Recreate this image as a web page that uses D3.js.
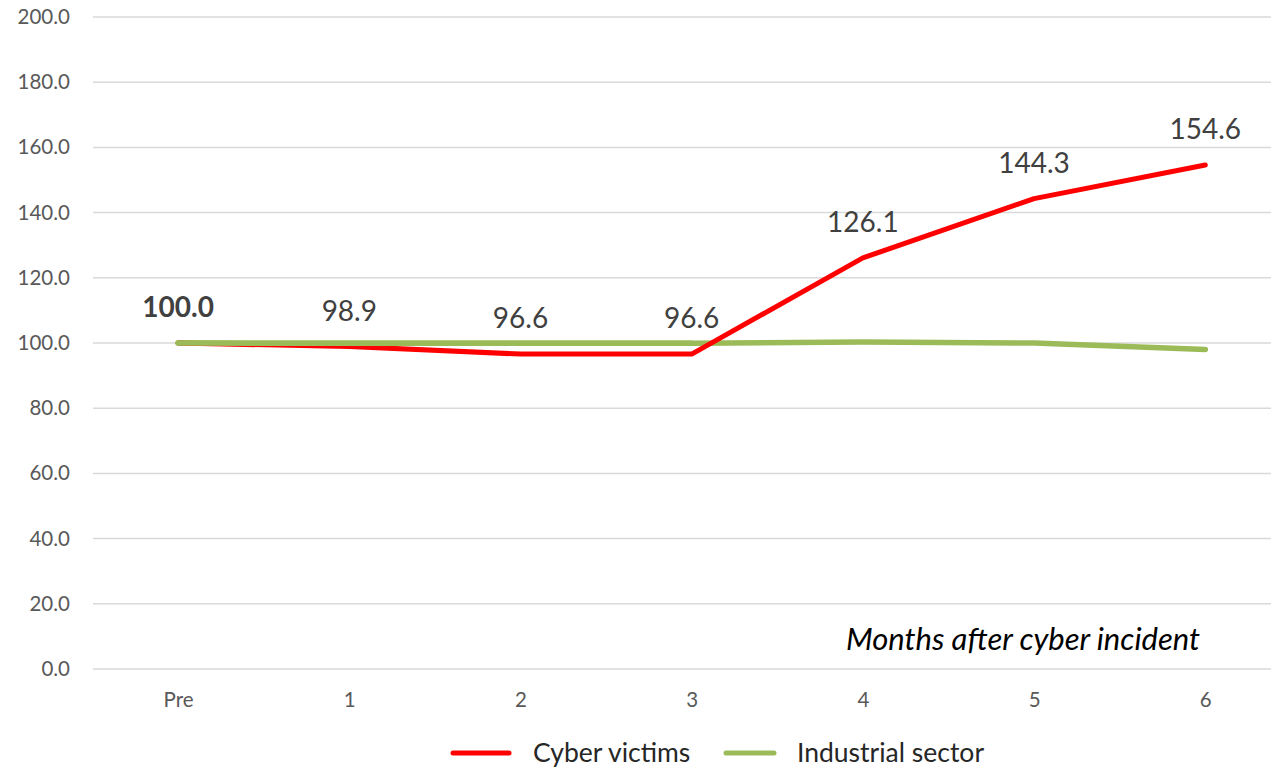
<!DOCTYPE html>
<html>
<head>
<meta charset="utf-8">
<script src="https://cdn.jsdelivr.net/npm/d3@7"></script>
<style>
  html, body { margin: 0; padding: 0; background: #fff; }
  svg { display: block; font-family: Lato, "Open Sans", sans-serif; }
</style>
</head>
<body>
<svg id="chart" width="1271" height="768"></svg>
<script>
// Index of activity (Pre = 100) by month after the incident
const categories = ["Pre", "1", "2", "3", "4", "5", "6"];
const cyberVictims = [100.0, 98.9, 96.6, 96.6, 126.1, 144.3, 154.6];
const industrialSector = [100.0, 99.9, 99.9, 99.9, 100.3, 100.0, 98.0];
const yTicks = [0, 20, 40, 60, 80, 100, 120, 140, 160, 180, 200];
const seriesNames = ["Cyber victims", "Industrial sector"];
const seriesColors = ["#FF0000", "#9BBB59"];

const svg = d3.select("#chart");

const x = d3.scalePoint().domain(categories).range([92.5, 1290.9]).padding(0.5);
const y = d3.scaleLinear().domain([0, 200]).range([669, 17]);

// Horizontal gridlines
svg.append("g")
  .selectAll("line")
  .data(yTicks)
  .join("line")
  .attr("x1", 93).attr("x2", 1271)
  .attr("y1", d => y(d)).attr("y2", d => y(d))
  .attr("stroke", "#d9d9d9").attr("stroke-width", 1.5);

// Y axis labels
const yAxis = d3.axisLeft(y).tickValues(yTicks).tickFormat(d3.format(".1f")).tickSize(0).tickPadding(0);
const gy = svg.append("g").attr("transform", "translate(70,0)").call(yAxis);
gy.select(".domain").remove();
gy.selectAll("text").attr("fill", "#595959").style("font-size", "20.5px").style("font-family", "Lato, sans-serif");

// X axis labels
const xAxis = d3.axisBottom(x).tickSize(0).tickPadding(0);
const gx = svg.append("g").attr("transform", "translate(0,692)").call(xAxis);
gx.select(".domain").remove();
gx.selectAll("text").attr("fill", "#595959").style("font-size", "20.5px").style("font-family", "Lato, sans-serif");

// Axis note
svg.append("text")
  .attr("x", 1200).attr("y", 650)
  .attr("text-anchor", "end")
  .attr("font-style", "italic")
  .attr("font-size", 31)
  .attr("fill", "#000")
  .text("Months after cyber incident");

const line = d3.line().x((d, i) => x(categories[i])).y(d => y(d));

// Industrial sector series
svg.append("path")
  .datum(industrialSector)
  .attr("d", line)
  .attr("fill", "none")
  .attr("stroke", seriesColors[1])
  .attr("stroke-width", 5.5)
  .attr("stroke-linecap", "round")
  .attr("stroke-linejoin", "round");

// Cyber victims series
svg.append("path")
  .datum(cyberVictims)
  .attr("d", line)
  .attr("fill", "none")
  .attr("stroke", seriesColors[0])
  .attr("stroke-width", 5)
  .attr("stroke-linecap", "round")
  .attr("stroke-linejoin", "round");

// Industrial sector drawn over the red line where they overlap at the start
svg.append("path")
  .datum(industrialSector.slice(0, 4))
  .attr("d", line)
  .attr("fill", "none")
  .attr("stroke", seriesColors[1])
  .attr("stroke-width", 5.5)
  .attr("stroke-linecap", "round");

// Value labels for cyber victims
svg.append("g")
  .selectAll("text")
  .data(cyberVictims)
  .join("text")
  .attr("x", (d, i) => x(categories[i]))
  .attr("y", d => y(d) - 26)
  .attr("text-anchor", "middle")
  .attr("font-size", 28)
  .attr("font-weight", (d, i) => i === 0 ? "bold" : "normal")
  .attr("fill", "#404040")
  .text(d => d3.format(".1f")(d));

// Legend
const legend = svg.append("g");
const legendItems = [
  { name: seriesNames[0], color: seriesColors[0], x: 453, w: 56, gap: 80 },
  { name: seriesNames[1], color: seriesColors[1], x: 726, w: 48, gap: 71 }
];
legendItems.forEach(item => {
  legend.append("line")
    .attr("x1", item.x).attr("x2", item.x + item.w)
    .attr("y1", 753).attr("y2", 753)
    .attr("stroke", item.color).attr("stroke-width", 5)
    .attr("stroke-linecap", "round");
  legend.append("text")
    .attr("x", item.x + item.gap).attr("y", 762)
    .attr("font-size", 26.5)
    .attr("fill", "#262626")
    .text(item.name);
});
</script>
</body>
</html>
